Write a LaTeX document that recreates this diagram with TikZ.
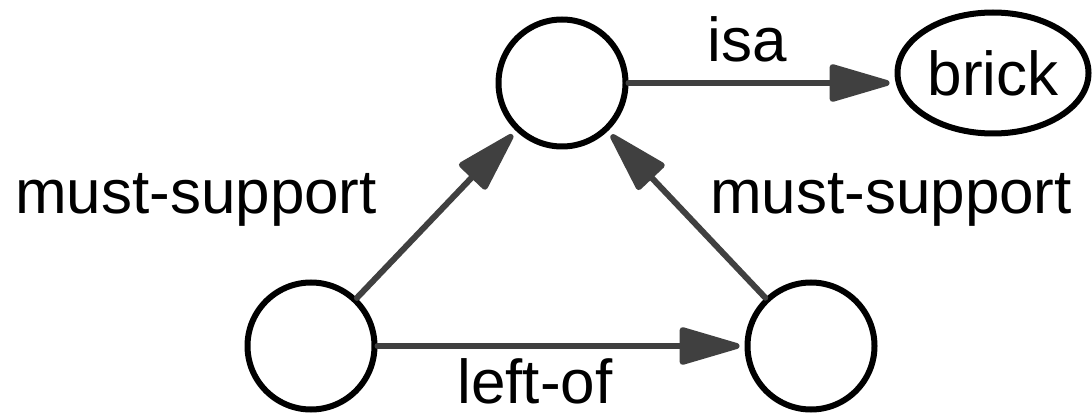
\documentclass[tikz,border=0pt]{standalone}
\usepackage{fontspec}
\setmainfont{Liberation Sans}
\usetikzlibrary{arrows.meta,shapes.geometric}
\definecolor{edgegray}{HTML}{404040}
\begin{document}
\begin{tikzpicture}[x=1pt,y=-1pt,
  font=\fontsize{62}{70}\selectfont,
  blank/.style={circle,draw=black,line width=6pt,minimum size=127pt,inner sep=0pt},
  concept/.style={ellipse,draw=black,line width=6pt,minimum width=191pt,minimum height=121pt,inner sep=0pt},
  rel/.style={draw=edgegray,line width=6pt,line cap=round,shorten >=5pt,
    -{Triangle[length=68pt,width=38pt,round]}},
  lbl/.style={anchor=base,inner sep=0pt}]
  \useasboundingbox (0,0) rectangle (1092,414);

  % nodes
  \node[blank] (top) at (562,83) {};
  \node[blank] (bl) at (311,346) {};
  \node[blank] (br) at (811,346) {};
  \node[concept] (brick) at (993,73) {brick};

  % relations
  \draw[rel,fill=edgegray] (top.east) -- (top.east -| brick.west);
  \draw[rel,fill=edgegray] (bl) -- (top);
  \draw[rel,fill=edgegray] (br) -- (top);
  \draw[rel,fill=edgegray] (bl.east) -- (br.west);

  % relation labels
  \node[lbl] (lisa) at (747,62) {isa};
  \node[lbl] (lms1) at (196,214) {must-support};
  \node[lbl] (lms2) at (891,214) {must-support};
  \node[lbl] (lleft) at (535,403) {left-of};
\end{tikzpicture}
\end{document}
